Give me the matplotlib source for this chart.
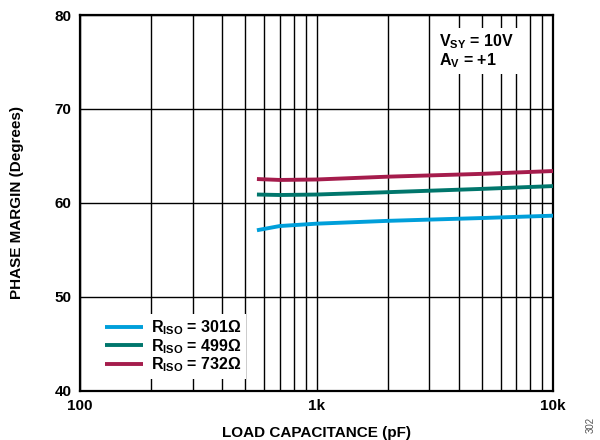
import numpy as np
import matplotlib
matplotlib.use("Agg")
import matplotlib.pyplot as plt
from matplotlib.ticker import FixedLocator, NullFormatter

plt.rcParams['font.family'] = ['Liberation Sans', 'DejaVu Sans']
plt.rcParams['font.weight'] = 'bold'
plt.rcParams['mathtext.fontset'] = 'custom'
plt.rcParams['mathtext.rm'] = 'Liberation Sans:bold'
plt.rcParams['mathtext.bf'] = 'Liberation Sans:bold'
plt.rcParams['mathtext.it'] = 'Liberation Sans:bold'

# data
cap_pf = [560, 700, 1000, 2000, 5000, 10000]
pm_301 = [57.1, 57.55, 57.8, 58.1, 58.4, 58.65]
pm_499 = [60.9, 60.85, 60.9, 61.15, 61.5, 61.8]
pm_732 = [62.55, 62.45, 62.5, 62.8, 63.1, 63.4]

labels = [r'R$_{\mathrm{ISO}}$ = 301Ω', r'R$_{\mathrm{ISO}}$ = 499Ω', r'R$_{\mathrm{ISO}}$ = 732Ω']
colors = ['#009fda', '#00766c', '#a51c4c']

fig = plt.figure(figsize=(6, 4.4), dpi=100)
ax = fig.add_axes([0.1333, 0.1114, 0.7884, 0.8545])

for y, lab, c in zip([pm_301, pm_499, pm_732], labels, colors):
    ax.plot(cap_pf, y, color=c, lw=2.8, label=lab, solid_capstyle='butt', zorder=3)

ax.set_xscale('log')
ax.set_xlim(100, 10000)
ax.set_ylim(40, 80)
ax.xaxis.set_major_locator(FixedLocator([100, 1000, 10000]))
ax.xaxis.set_minor_locator(FixedLocator([k * 10 ** e for e in (2, 3) for k in range(2, 10)]))
ax.xaxis.set_minor_formatter(NullFormatter())
ax.set_xticklabels(['100', '1k', '10k'])
ax.set_yticks([40, 50, 60, 70, 80])

ax.grid(which='major', axis='both', color='black', lw=1.0)
ax.grid(which='minor', axis='x', color='black', lw=1.0)
ax.set_axisbelow(True)
ax.tick_params(which='both', length=0, labelsize=11, pad=6)
for s in ax.spines.values():
    s.set_linewidth(1.6)

ax.set_xlabel('LOAD CAPACITANCE (pF)', fontsize=11, fontweight='bold', labelpad=9)
ax.set_ylabel('PHASE MARGIN (Degrees)', fontsize=11, fontweight='bold', labelpad=22)

leg = ax.legend(loc='lower left', bbox_to_anchor=(0.025, 0.01), fontsize=11.5, frameon=True,
                fancybox=False, edgecolor='none', framealpha=1, handlelength=2.4,
                borderpad=0.3, labelspacing=0.0, handletextpad=0.5)
leg.get_frame().set_linewidth(0)

ax.text(0.76, 0.955, r'V$_{\mathrm{SY}}$ = 10V' + '\n' + r'A$_{\mathrm{V}}$ = +1', transform=ax.transAxes,
        fontsize=11.5, fontweight='bold', va='top', ha='left', linespacing=1.05,
        bbox=dict(facecolor='white', edgecolor='none', pad=3), zorder=4)

fig.text(0.985, 0.035, '302', rotation=90, fontsize=7, color='#555555', fontweight='normal',
         ha='center', va='center')

fig.savefig('out.png', dpi=100)
